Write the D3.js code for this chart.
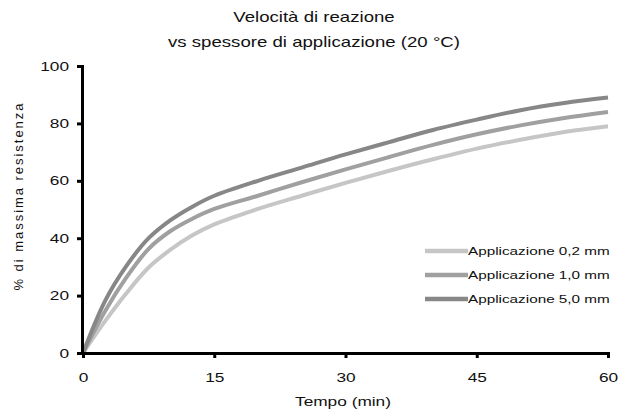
<!DOCTYPE html>
<html>
<head>
<meta charset="utf-8">
<title>Velocità di reazione</title>
<style>
body { margin: 0; background: #fff; }
text { font-family: "Liberation Sans", Arial, sans-serif; fill: #111; }
</style>
</head>
<body>
<div id="container"></div>
<script src="https://d3js.org/d3.v7.min.js"></script>
<script>
// Tempo (min)
const tempo = [0, 2.5, 5, 7.5, 10, 12.5, 15, 20, 25, 30, 35, 40, 45, 50, 55, 60];
// % di massima resistenza
const app02 = [0, 11, 21, 29.8, 36, 41, 44.8, 50.2, 54.8, 59.3, 63.5, 67.5, 71.2, 74.3, 77, 79];
const app10 = [0, 14.5, 26.5, 36.3, 42.5, 46.8, 50.2, 54.8, 59.5, 64, 68.3, 72.5, 76.2, 79.3, 81.9, 84];
const app50 = [0, 18, 30.5, 40, 46.3, 51, 54.8, 60, 64.6, 69.2, 73.5, 77.7, 81.3, 84.6, 87.1, 89];
const seriesNames = ["Applicazione 0,2 mm", "Applicazione 1,0 mm", "Applicazione 5,0 mm"];
const seriesColors = ["#c6c6c6", "#a0a0a0", "#878787"];
const xTicks = [0, 15, 30, 45, 60];
const yTicks = [0, 20, 40, 60, 80, 100];

const width = 619;
const height = 412;
const marginTop = 66;
const marginRight = 11;
const marginBottom = 59;
const marginLeft = 83;
const stretchX = 1.33; // the picture's lettering is wide

const x = d3.scaleLinear()
    .domain([0, 60])
    .range([marginLeft, width - marginRight]);

const y = d3.scaleLinear()
    .domain([0, 100])
    .range([height - marginBottom, marginTop]);

const svg = d3.create("svg")
    .attr("width", width)
    .attr("height", height);

// widen a text element about its anchor point
function widen(sel) {
    sel.each(function() {
        const t = d3.select(this);
        const ax = +t.attr("x") || 0;
        const prev = t.attr("transform") || "";
        t.attr("transform", `${prev} translate(${ax},0) scale(${stretchX},1) translate(${-ax},0)`);
    });
}

// Lines
const series = [app02, app10, app50];
const line = d3.line()
    .x((d, i) => x(tempo[i]))
    .y(d => y(d))
    .curve(d3.curveCatmullRom.alpha(0.5));

svg.append("g")
  .selectAll("path")
  .data(series)
  .join("path")
    .attr("fill", "none")
    .attr("stroke", (d, i) => seriesColors[i])
    .attr("stroke-width", 4)
    .attr("d", d => line(d));

// x-axis
const gx = svg.append("g")
    .attr("transform", `translate(0,${height - marginBottom})`)
    .call(d3.axisBottom(x).tickValues(xTicks).tickSize(5).tickPadding(15));
// y-axis
const gy = svg.append("g")
    .attr("transform", `translate(${marginLeft - 1},0)`)
    .call(d3.axisLeft(y).tickValues(yTicks).tickSize(5).tickPadding(8));

[gx, gy].forEach(g => {
    g.select(".domain").attr("stroke", "#000").attr("stroke-width", 3);
    g.selectAll(".tick line").attr("stroke", "#000").attr("stroke-width", 3);
    g.selectAll(".tick text")
        .attr("font-family", "Liberation Sans, Arial, sans-serif")
        .attr("font-size", 13)
        .attr("fill", "#111")
        .call(widen);
});

// Title
const title = svg.append("g").attr("font-size", 14);
title.append("text").attr("x", 314).attr("y", 22).attr("text-anchor", "middle")
    .text("Velocità di reazione").call(widen);
title.append("text").attr("x", 314).attr("y", 47).attr("text-anchor", "middle")
    .text("vs spessore di applicazione (20 °C)").call(widen);

// Axis titles
svg.append("text")
    .attr("x", 343).attr("y", 406)
    .attr("text-anchor", "middle")
    .attr("font-size", 13)
    .text("Tempo (min)").call(widen);

svg.append("text")
    .attr("transform", "translate(23,197) rotate(-90)")
    .attr("text-anchor", "middle")
    .attr("font-size", 13)
    .attr("textLength", 187)
    .attr("lengthAdjust", "spacing")
    .text("% di massima resistenza");

// Legend
const legend = svg.append("g")
  .selectAll("g")
  .data(seriesNames)
  .join("g")
    .attr("transform", (d, i) => `translate(425,${251 + i * 24})`);

legend.append("line")
    .attr("x1", 0).attr("x2", 43)
    .attr("stroke", (d, i) => seriesColors[i])
    .attr("stroke-width", 4.5);

legend.append("text")
    .attr("x", 43).attr("dy", "0.35em")
    .attr("font-size", 11.5)
    .text(d => d)
    .call(widen);

container.append(svg.node());
</script>
</body>
</html>
